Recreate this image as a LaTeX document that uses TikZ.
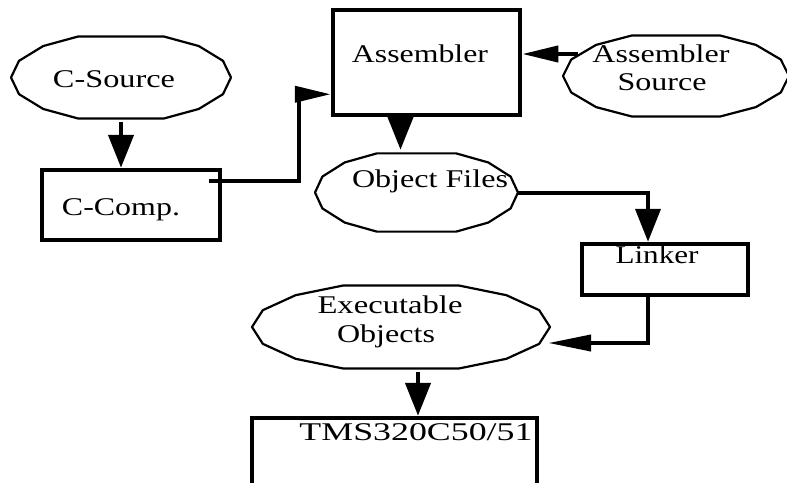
\documentclass[tikz,border=0pt]{standalone}
\usepackage{fontspec}
\setmainfont{Liberation Serif}
\usetikzlibrary{arrows.meta,shapes.geometric}
\newcommand\fitw[2]{\resizebox{#1pt}{\height}{#2}}
\tikzset{
  ell/.style={ellipse, draw=none, inner sep=0pt},
  box/.style={rectangle, draw, line width=4.5pt, inner sep=0pt},
  lbl/.style={anchor=base, inner sep=0pt, font=\fontsize{25.5}{30}\selectfont},
  varrow/.style={line width=4.5pt, -{Triangle[length=33pt,width=25pt]}},
  harrow/.style={line width=4pt, -{Triangle[length=36pt,width=16pt]}},
  harrowlong/.style={line width=4pt, -{Triangle[length=43pt,width=16pt]}},
}
% polygonal ellipse: node name, half width, half height
\newcommand\polyell[3]{\draw[line width=2.2pt, line join=round] ([shift={(#2,0)}]#1.center) \foreach \a in {22,45,67,113,135,158,180,202,225,247,293,315,338}{ -- ([shift={({#2*cos(\a)},{#3*sin(\a)})}]#1.center)} -- cycle;}
\begin{document}
\begin{tikzpicture}[x=1pt,y=-1pt]
\clip (0,0) rectangle (787,482);
% shapes
\node[ell, minimum width=220pt, minimum height=89pt] (csrc) at (121,77.5) {};
\node[box, minimum width=178pt, minimum height=70pt] (ccomp) at (131,205) {};
\node[box, minimum width=187pt, minimum height=105pt] (asm) at (426.5,62.5) {};
\node[ell, minimum width=226pt, minimum height=88pt] (asrc) at (676,76) {};
\node[ell, minimum width=203pt, minimum height=85pt] (objf) at (416.5,192.5) {};
\node[box, minimum width=166pt, minimum height=51pt] (linker) at (665,269.5) {};
\node[ell, minimum width=298pt, minimum height=90pt] (exe) at (401,327) {};
\node[box, minimum width=285pt, minimum height=100pt] (tms) at (394.5,468) {};
\polyell{csrc}{110}{44.5}
\polyell{asrc}{113}{44}
\polyell{objf}{101.5}{42.5}
\polyell{exe}{149}{45}
% labels
\node[lbl] (tcsrc) at (114,87) {\fitw{122}{C-Source}};
\node[lbl] (tccomp) at (121,215) {\fitw{118}{C-Comp.}};
\node[lbl] (tasm) at (420,62) {\fitw{136}{Assembler}};
\node[lbl] (tasrc1) at (661,62) {\fitw{137}{Assembler}};
\node[lbl] (tasrc2) at (662,90) {\fitw{89}{Source}};
\node[lbl] (tobjf) at (430,187) {\fitw{156}{Object Files}};
\node[lbl] (tlinker) at (657,263) {\fitw{83}{Linker}};
\node[lbl] (texe1) at (390,313) {\fitw{145}{Executable}};
\node[lbl] (texe2) at (386,342) {\fitw{98}{Objects}};
\node[lbl] (ttms) at (416,440) {\fitw{233}{TMS320C50/51}};
% connectors
\coordinate (asrcin) at ([shift={(-98,-22)}]asrc.center);
\draw[varrow] (csrc.south) -- (csrc.south |- ccomp.north);
\draw[harrow] ([shift={(-13,13)}]ccomp.north east) -- ++(90,0) |- ([shift={(0,-23)}]asm.south west);
\draw[harrow] (asrcin) -- (asrcin -| asm.east);
\draw[varrow] ([shift={(-26,0)}]asm.south) -- ([shift={(-26,0)}]asm.south |- objf.north);
\draw[varrow, line width=4pt] (objf.east) -| ([shift={(-17,0)}]linker.north);
\draw[harrowlong] ([shift={(-17,0)}]linker.south) |- ([shift={(-2,16)}]exe.east);
\draw[varrow] ([shift={(17,0)}]exe.south) -- ([shift={(17,0)}]exe.south |- tms.north);
\end{tikzpicture}
\end{document}
